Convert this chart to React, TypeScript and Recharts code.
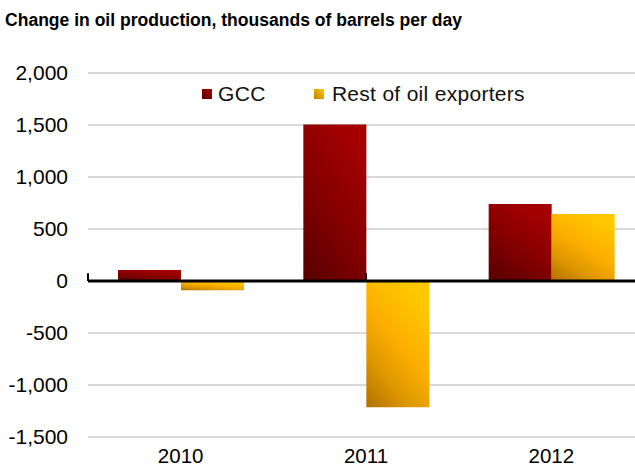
import React from 'react';
import { BarChart, Bar, XAxis, YAxis, CartesianGrid, ReferenceLine, Legend } from 'recharts';

const categories = ['2010', '2011', '2012'];
const gccValues = [105, 1505, 740];
const restValues = [-90, -1215, 645];
const yTicks = [-1500, -1000, -500, 0, 500, 1000, 1500, 2000];
const boundaryTicks = [0, 1, 2, 3];
const seriesNames = ['GCC', 'Rest of oil exporters'];
const titleText = 'Change in oil production, thousands of barrels per day';

const data = categories.map((c, i) => ({ year: c, gcc: gccValues[i], rest: restValues[i] }));

const FONT = '"Liberation Sans", Arial, sans-serif';

const LegendContent = () => (
  <div style={{ display: 'flex', alignItems: 'center', fontFamily: FONT, fontSize: 21, lineHeight: '24px', color: '#111', whiteSpace: 'nowrap' }}>
    <svg width={10} height={10} style={{ marginRight: 6 }}>
      <rect width={10} height={10} fill="url(#gccLegend)" />
    </svg>
    <span style={{ marginRight: 48, letterSpacing: 0.4 }}>{seriesNames[0]}</span>
    <svg width={10} height={10} style={{ marginRight: 8 }}>
      <rect width={10} height={10} fill="url(#restLegend)" />
    </svg>
    <span style={{ letterSpacing: 0.3 }}>{seriesNames[1]}</span>
  </div>
);

export default function App() {
  return (
    <div style={{ position: 'absolute', left: 0, top: 0, width: 635, height: 466, overflow: 'hidden', background: '#fff' }}>
      <svg width={635} height={40} style={{ position: 'absolute', left: 0, top: 0 }}>
        <text x={5} y={26} fontFamily={FONT} fontWeight="bold" fontSize={18} fill="#000" textLength={457} lengthAdjust="spacingAndGlyphs">
          {titleText}
        </text>
      </svg>
      <div style={{ position: 'absolute', left: 0, top: 0 }}>
        <BarChart
          width={650}
          height={466}
          data={data}
          margin={{ top: 73, right: 6, bottom: 0, left: 8 }}
          barSize={63}
          barGap={0}
        >
          <defs>
            <linearGradient id="gccGrad" x1="0" y1="1" x2="0.6" y2="0">
              <stop offset="0" stopColor="#560000" />
              <stop offset="0.55" stopColor="#860000" />
              <stop offset="1" stopColor="#a50000" />
            </linearGradient>
            <linearGradient id="restGrad" x1="0" y1="1" x2="0.6" y2="0">
              <stop offset="0" stopColor="#b07000" />
              <stop offset="0.3" stopColor="#dc9600" />
              <stop offset="0.6" stopColor="#fcae00" />
              <stop offset="1" stopColor="#ffc800" />
            </linearGradient>
            <linearGradient id="gccLegend" x1="0" y1="1" x2="1" y2="0">
              <stop offset="0" stopColor="#600000" />
              <stop offset="1" stopColor="#a50000" />
            </linearGradient>
            <linearGradient id="restLegend" x1="0" y1="1" x2="1" y2="0">
              <stop offset="0" stopColor="#c08000" />
              <stop offset="1" stopColor="#ffc800" />
            </linearGradient>
          </defs>
          <CartesianGrid vertical={false} stroke="#d9d9d9" strokeWidth={2} />
          <XAxis
            dataKey="year"
            axisLine={false}
            tickLine={false}
            height={29}
            tickSize={6}
            tickMargin={5}
            tick={{ fontFamily: FONT, fontSize: 20.5, fill: '#000' }}
          />
          <XAxis xAxisId="num" type="number" domain={[0, 3]} hide />
          <YAxis
            width={80}
            domain={[-1500, 2000]}
            ticks={yTicks}
            axisLine={false}
            tickLine={false}
            tickSize={6}
            tickMargin={14}
            interval={0}
            tickFormatter={(v: number) => v.toLocaleString('en-US')}
            tick={{ fontFamily: FONT, fontSize: 21, fill: '#000' }}
          />
          <Legend
            verticalAlign="middle"
            align="center"
            content={LegendContent}
            wrapperStyle={{ position: 'absolute', top: 82, left: 202, width: 'auto', height: 'auto' }}
          />
          <Bar dataKey="gcc" name={seriesNames[0]} fill="url(#gccGrad)" isAnimationActive={false} />
          <Bar dataKey="rest" name={seriesNames[1]} fill="url(#restGrad)" isAnimationActive={false} />
          <ReferenceLine y={0} stroke="#000" strokeWidth={3} />
          {boundaryTicks.map((b) => (
            <ReferenceLine
              key={b}
              xAxisId="num"
              segment={[{ x: b, y: 0 }, { x: b, y: 75 }]}
              stroke="#000"
              strokeWidth={2}
            />
          ))}
        </BarChart>
      </div>
    </div>
  );
}
